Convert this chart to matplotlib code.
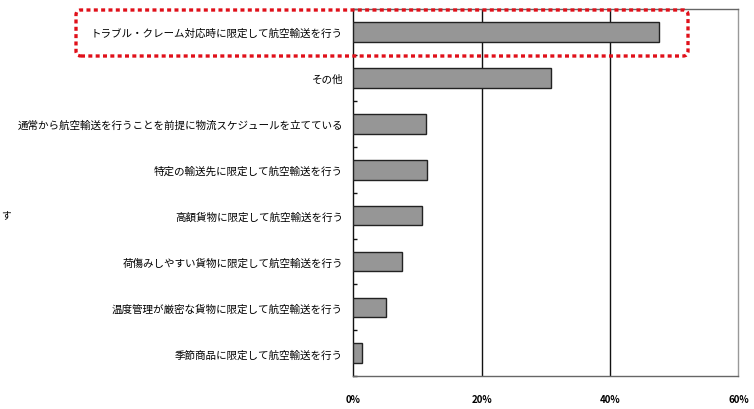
import matplotlib
matplotlib.use('Agg')
import matplotlib.pyplot as plt
import numpy as np
from matplotlib.patches import FancyBboxPatch

plt.rcParams['font.family'] = ['Noto Sans CJK JP', 'DejaVu Sans']

categories = [
    'トラブル・クレーム対応時に限定して航空輸送を行う',
    'その他',
    '通常から航空輸送を行うことを前提に物流スケジュールを立てている',
    '特定の輸送先に限定して航空輸送を行う',
    '高額貨物に限定して航空輸送を行う',
    '荷傷みしやすい貨物に限定して航空輸送を行う',
    '温度管理が厳密な貨物に限定して航空輸送を行う',
    '季節商品に限定して航空輸送を行う',
]
values = [47.7, 30.8, 11.3, 11.4, 10.7, 7.6, 5.1, 1.3]
xticks = [0, 20, 40, 60]
xtick_labels = ['0%', '20%', '40%', '60%']

fig = plt.figure(figsize=(7.54, 4.10), dpi=100)
ax = fig.add_axes([0.4688, 0.0798, 0.5104, 0.8958])

y = np.arange(len(categories))
ax.barh(y, values, height=0.43, color='#969696', edgecolor='#222222', linewidth=1.0, zorder=3)

ax.set_xlim(0, 60)
ax.set_ylim(len(categories) - 0.5, -0.5)

# vertical grid lines
for xv in xticks[1:-1]:
    ax.axvline(xv, color='#111111', linewidth=1.0, zorder=1)

ax.set_xticks(xticks)
ax.set_xticklabels(xtick_labels, fontsize=7, fontweight='bold')
ax.tick_params(axis='x', length=0, pad=13)

ax.set_yticks(y)
ax.set_yticklabels(categories, fontsize=7.6)
ax.tick_params(axis='y', which='major', length=0, pad=7.5)
ax.set_yticks(np.arange(-0.5, len(categories) + 0.5, 1), minor=True)
ax.tick_params(axis='y', which='minor', direction='in', length=3, width=1, color='#111111')

ax.spines['left'].set_color('#111111')
ax.spines['bottom'].set_color('#666666')
ax.spines['top'].set_color('#666666')
ax.spines['right'].set_color('#999999')
for s in ax.spines.values():
    s.set_linewidth(1.0)

# red dotted highlight box
box = FancyBboxPatch((0.76, 3.53), 6.12, 0.46,
                     boxstyle='round,pad=0,rounding_size=0.05',
                     transform=fig.dpi_scale_trans, fill=False,
                     edgecolor='#e0101a', linewidth=2.4,
                     linestyle=(0, (1.2, 1.0)), clip_on=False, zorder=10)
fig.patches.append(box)

# stray text at the left edge
fig.text(0.001, 1 - 215 / 410, 'す', fontsize=7, ha='left', va='center')

fig.savefig('out.png', dpi=100)
